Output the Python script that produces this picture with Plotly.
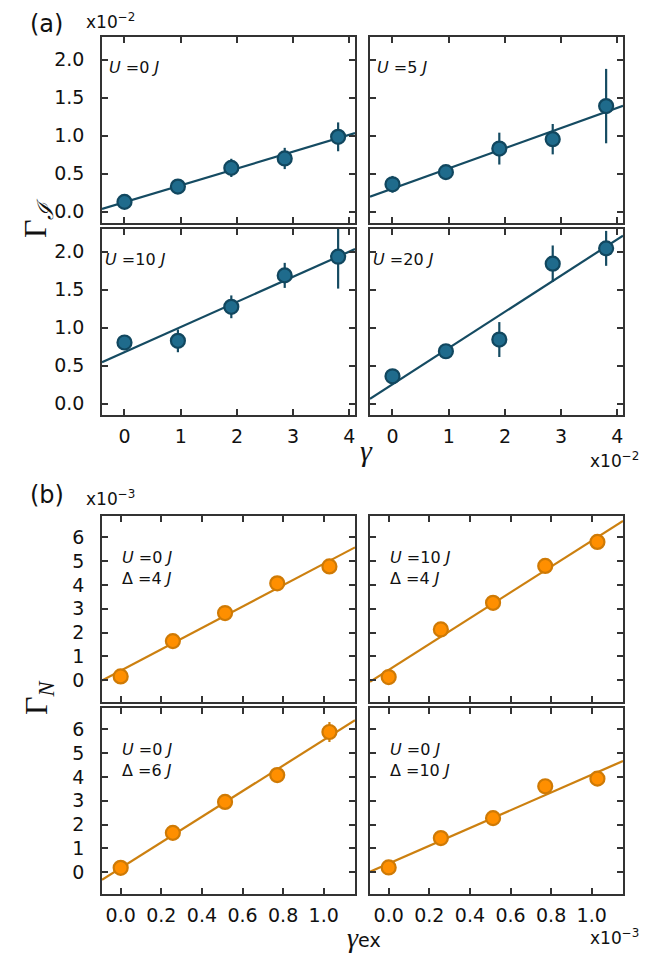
import plotly.graph_objects as go

W, H = 670, 954

# ---------------- data ----------------
gamma = [0, 0.95, 1.9, 2.85, 3.8]
gamma_ticks = [0, 1, 2, 3, 4]
gammaI_ticks = [0.0, 0.5, 1.0, 1.5, 2.0]

GI_U0 = [0.128, 0.33, 0.576, 0.70, 0.985]
GI_U0_err = [0.03, 0.04, 0.12, 0.14, 0.19]
GI_U5 = [0.36, 0.52, 0.83, 0.954, 1.39]
GI_U5_err = [0.11, 0.04, 0.21, 0.20, 0.49]
GI_U10 = [0.805, 0.827, 1.275, 1.689, 1.935]
GI_U10_err = [0.05, 0.15, 0.15, 0.165, 0.42]
GI_U20 = [0.36, 0.69, 0.844, 1.843, 2.045]
GI_U20_err = [0.05, 0.05, 0.23, 0.24, 0.23]
fitA_slope = [0.222, 0.266, 0.331, 0.478]
fitA_icpt = [0.124, 0.304, 0.678, 0.253]
labelsA = ["<i>U</i> =0 <i>J</i>", "<i>U</i> =5 <i>J</i>", "<i>U</i> =10 <i>J</i>", "<i>U</i> =20 <i>J</i>"]

gamma_ex = [0, 0.257, 0.514, 0.771, 1.028]
gammaex_ticks = [0.0, 0.2, 0.4, 0.6, 0.8, 1.0]
GN_ticks = [0, 1, 2, 3, 4, 5, 6]
GN_U0_D4 = [0.155, 1.64, 2.82, 4.07, 4.78]
GN_U0_D4_err = [0.08, 0.08, 0.08, 0.1, 0.12]
GN_U10_D4 = [0.13, 2.13, 3.25, 4.80, 5.81]
GN_U10_D4_err = [0.08, 0.08, 0.08, 0.1, 0.12]
GN_U0_D6 = [0.18, 1.65, 2.95, 4.08, 5.89]
GN_U0_D6_err = [0.08, 0.08, 0.1, 0.1, 0.42]
GN_U0_D10 = [0.196, 1.43, 2.27, 3.61, 3.93]
GN_U0_D10_err = [0.08, 0.08, 0.08, 0.1, 0.1]
fitB_slope = [4.49, 5.43, 5.38, 3.74]
fitB_icpt = [0.40, 0.43, 0.175, 0.358]
labelsB = ["<i>U</i> =0 <i>J</i><br>Δ =4 <i>J</i>", "<i>U</i> =10 <i>J</i><br>Δ =4 <i>J</i>",
           "<i>U</i> =0 <i>J</i><br>Δ =6 <i>J</i>", "<i>U</i> =0 <i>J</i><br>Δ =10 <i>J</i>"]

# ---------------- styling ----------------
BLUE_FILL, BLUE_EDGE, BLUE_LINE = "#1f6b8c", "#11475f", "#154b62"
ORG_FILL, ORG_EDGE, ORG_LINE = "#ff8f00", "#cf7a05", "#cc8010"
FONT = "DejaVu Sans"
SERIF = "Liberation Serif"
XRA = [-0.4, 4.1]
YRA = [-0.15, 2.3]
XRB = [-0.092, 1.154]
YRB = [-0.92, 6.9]

cols = [(94, 347), (362, 615)]
rows = [(29, 215), (221, 407), (508, 694), (700, 886)]

def px2fx(x):
    return x / W

def px2fy(y):
    return 1 - y / H

fig = go.Figure()
layout = {}
panels = []
A_data = [(GI_U0, GI_U0_err), (GI_U5, GI_U5_err), (GI_U10, GI_U10_err), (GI_U20, GI_U20_err)]
B_data = [(GN_U0_D4, GN_U0_D4_err), (GN_U10_D4, GN_U10_D4_err), (GN_U0_D6, GN_U0_D6_err), (GN_U0_D10, GN_U0_D10_err)]

idx = 0
for part in range(2):
    for r in range(2):
        for c in range(2):
            k = r * 2 + c
            idx += 1
            xa = "xaxis" if idx == 1 else f"xaxis{idx}"
            ya = "yaxis" if idx == 1 else f"yaxis{idx}"
            xr = "x" if idx == 1 else f"x{idx}"
            yr = "y" if idx == 1 else f"y{idx}"
            x0, x1 = cols[c]
            y0, y1 = rows[part * 2 + r]
            if part == 0:
                xs, (ys, es) = gamma, A_data[k]
                xrange, yrange = XRA, YRA
                xt, yt = gamma_ticks, gammaI_ticks
                xtt = [str(v) for v in xt]
                ytt = [f"{v:.1f}" for v in yt]
                slope, icpt = fitA_slope[k], fitA_icpt[k]
                fill, edge, lcol = BLUE_FILL, BLUE_EDGE, BLUE_LINE
                lab = labelsA[k]
            else:
                xs, (ys, es) = gamma_ex, B_data[k]
                xrange, yrange = XRB, YRB
                xt, yt = gammaex_ticks, GN_ticks
                xtt = [f"{v:.1f}" for v in xt]
                ytt = [str(v) for v in yt]
                slope, icpt = fitB_slope[k], fitB_icpt[k]
                fill, edge, lcol = ORG_FILL, ORG_EDGE, ORG_LINE
                lab = labelsB[k]
            common = dict(showline=True, linecolor="#333333", linewidth=1.5, mirror="allticks",
                          ticks="inside", ticklen=6, tickwidth=1.5, tickcolor="#333333",
                          showgrid=False, zeroline=False,
                          tickfont=dict(family=FONT, size=19, color="#111111"))
            layout[xa] = dict(domain=[px2fx(x0), px2fx(x1)], range=xrange, anchor=yr,
                              tickvals=xt, ticktext=xtt, showticklabels=(r == 1),
                              ticklabelstandoff=3, **common)
            layout[ya] = dict(domain=[px2fy(y1), px2fy(y0)], range=yrange, anchor=xr,
                              tickvals=yt, ticktext=ytt, showticklabels=(c == 0),
                              ticklabelstandoff=12, **common)
            lx = [xrange[0], xrange[1]]
            ly = [icpt + slope * v for v in lx]
            fig.add_trace(go.Scatter(x=lx, y=ly, mode="lines", xaxis=xr, yaxis=yr,
                                     line=dict(color=lcol, width=2.2), showlegend=False,
                                     hoverinfo="skip"))
            fig.add_trace(go.Scatter(x=xs, y=ys, mode="markers", xaxis=xr, yaxis=yr,
                                     error_y=dict(type="data", array=es, color=lcol,
                                                  thickness=2.2, width=0),
                                     marker=dict(size=14, color=fill,
                                                 line=dict(color=edge, width=2.2)),
                                     showlegend=False))
            panels.append((x0, y0, lab, part, r))

annotations = []
for (x0, y0, lab, part, r) in panels:
    if part == 0:
        ax, ay = (x0 + 5, y0 + 31) if r == 0 else (x0 + 1, y0 + 31)
    else:
        ax, ay = x0 + 18, y0 + 52
    annotations.append(dict(x=px2fx(ax), y=px2fy(ay), xref="paper", yref="paper",
                            text=lab, showarrow=False, xanchor="left", yanchor="middle",
                            align="left", font=dict(family=FONT, size=16, color="#111111")))

def txt(x, y, t, size, xanchor="center", yanchor="middle", family=FONT, angle=0):
    annotations.append(dict(x=px2fx(x), y=px2fy(y), xref="paper", yref="paper", text=t,
                            showarrow=False, xanchor=xanchor, yanchor=yanchor, textangle=angle,
                            font=dict(family=family, size=size, color="#111111")))

txt(20, 16, "(a)", 24, xanchor="left")
txt(76, 13, "x10<sup>−2</sup>", 17, xanchor="left")
txt(580, 452, "x10<sup>−2</sup>", 17, xanchor="left")
txt(20, 487, "(b)", 24, xanchor="left")
txt(76, 490, "x10<sup>−3</sup>", 17, xanchor="left")
txt(580, 929, "x10<sup>−3</sup>", 17, xanchor="left")
txt(30, 210, "Γ<sub><i>ℐ</i></sub>", 32, family=SERIF, angle=-90)
txt(30, 690, "Γ<sub><i>N</i></sub>", 32, family=SERIF, angle=-90)
txt(358, 442, "<i>γ</i>", 30, family=SERIF)
txt(356, 929, "<i>γ</i><span style='font-family:DejaVu Sans;font-size:19px'>ex</span>", 28, family=SERIF)

fig.update_layout(width=W, height=H, margin=dict(l=0, r=0, t=0, b=0),
                  paper_bgcolor="white", plot_bgcolor="white",
                  annotations=annotations, **layout)
fig.write_html("out.html")
